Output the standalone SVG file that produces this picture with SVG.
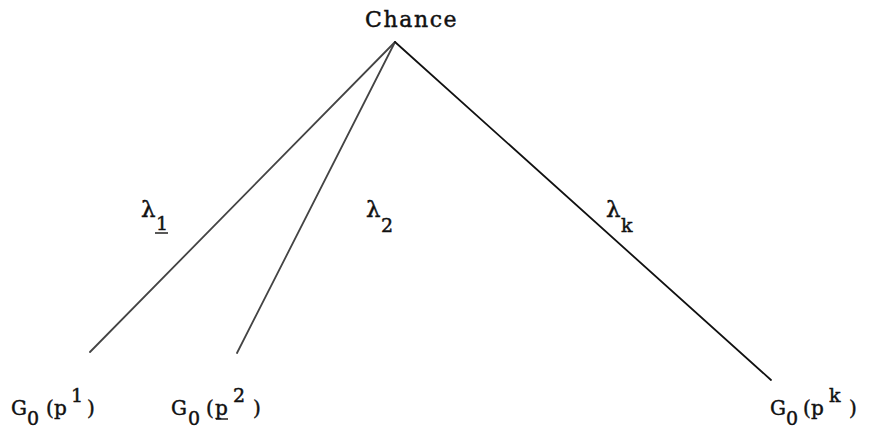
<svg xmlns="http://www.w3.org/2000/svg" width="871" height="429" viewBox="0 0 871 429">
<style>
.t{font-family:"DejaVu Serif","Liberation Serif",serif;fill:#111;stroke:#111;stroke-width:0.45}
.big{font-size:22px}
.g{font-size:20px}
.s{font-size:19px}
.lam{font-family:"DejaVu Serif","Liberation Serif",serif;font-size:23px;fill:#111;stroke:#111;stroke-width:0.45}
.edge{stroke:#111;stroke-width:1.8;fill:none;stroke-linecap:round}
.light{stroke:#444}
.ul{stroke:#111;stroke-width:1.4}
</style>
<rect width="871" height="429" fill="#fff"/>
<g id="connectors">
<line class="edge light" x1="395" y1="42" x2="90" y2="352"/>
<line class="edge light" x1="395" y1="42" x2="237" y2="353"/>
<line class="edge" x1="395" y1="42" x2="771" y2="380"/>
</g>
<g id="chance">
<text class="t big" x="365" y="27" letter-spacing="1.6">Chance</text>
</g>
<g id="labels">
<text class="lam" x="141" y="217">λ<tspan class="t s" x="156" y="230">1</tspan></text>
<line class="ul" x1="155" y1="233" x2="168" y2="233"/>
<text class="lam" x="366" y="217">λ<tspan class="t s" x="381" y="232">2</tspan></text>
<text class="lam" x="606" y="217">λ<tspan class="t s" x="621" y="232">k</tspan></text>
</g>
<g id="leaf1">
<text class="t g" y="415"><tspan x="11">G</tspan><tspan class="s" x="27" y="425">0</tspan><tspan x="46" y="415">(</tspan><tspan x="54">p</tspan><tspan class="s" x="71" y="402">1</tspan><tspan x="87" y="415">)</tspan></text>
</g>
<g id="leaf2">
<text class="t g" y="415"><tspan x="171">G</tspan><tspan class="s" x="188" y="425">0</tspan><tspan x="206" y="415">(</tspan><tspan x="215">p</tspan><tspan class="s" x="233" y="402">2</tspan><tspan x="253" y="415">)</tspan></text>
<line class="ul" x1="216" y1="419" x2="228" y2="419"/>
</g>
<g id="leafk">
<text class="t g" y="415"><tspan x="770">G</tspan><tspan class="s" x="786" y="425">0</tspan><tspan x="803" y="415">(</tspan><tspan x="811">p</tspan><tspan class="s" x="829" y="402">k</tspan><tspan x="849" y="415">)</tspan></text>
</g>
</svg>
